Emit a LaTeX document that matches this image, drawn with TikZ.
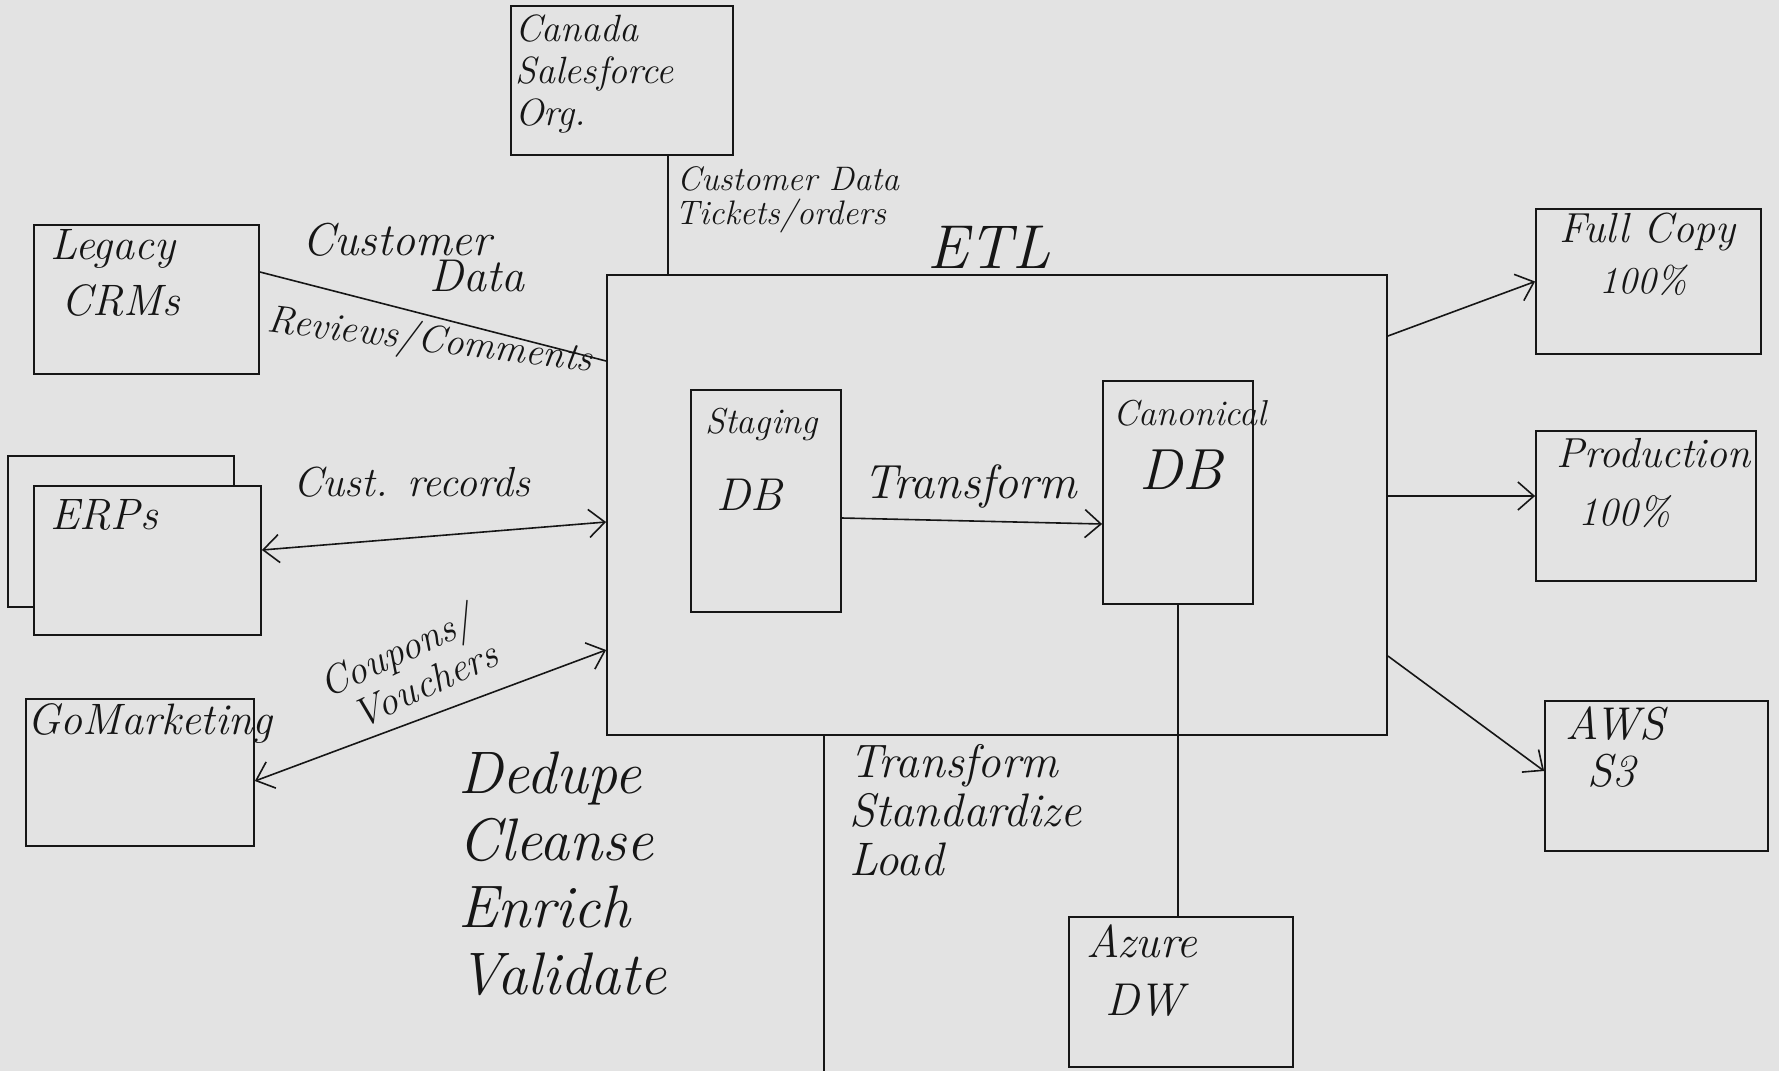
\documentclass[tikz,border=0pt]{standalone}
\usepackage{fontspec}
\usetikzlibrary{arrows.meta}
\definecolor{paper}{RGB}{227,227,227}
\definecolor{ink}{RGB}{22,22,22}
\newcommand\hwfont[2]{\itshape\fontsize{#1}{#2}\selectfont}
\begin{document}
\begin{tikzpicture}[x=1pt,y=-1pt,
  box/.style={draw=ink, line width=1.8pt, fill=paper, inner sep=0pt},
  lbl/.style={text=ink, inner sep=0pt},
  conn/.style={draw=ink, line width=1.6pt},
  arr/.style={conn, -{Straight Barb[length=16pt,width=28pt,line width=1.6pt]}},
  darr/.style={conn, {Straight Barb[length=16pt,width=28pt,line width=1.6pt]}-{Straight Barb[length=16pt,width=28pt,line width=1.6pt]}}]
\fill[paper] (0,0) rectangle (1779,1071);
\useasboundingbox (0,0) rectangle (1779,1071);

% boxes
\node[box, minimum width=780, minimum height=460] (etl) at (997,505) {};
\node[box, minimum width=150, minimum height=222] (staging) at (766,501) {};
\node[box, minimum width=150, minimum height=223] (canon) at (1178,492.5) {};
\node[box, minimum width=222, minimum height=149] (canada) at (622,80.5) {};
\node[box, minimum width=225, minimum height=149] (crm) at (146.5,299.5) {};
\node[box, minimum width=226, minimum height=151] (erpback) at (121,531.5) {};
\node[box, minimum width=227, minimum height=149] (erp) at (147.5,560.5) {};
\node[box, minimum width=228, minimum height=147] (gom) at (140,772.5) {};
\node[box, minimum width=224, minimum height=150] (azure) at (1181,992) {};
\node[box, minimum width=225, minimum height=145] (fullcopy) at (1648.5,281.5) {};
\node[box, minimum width=220, minimum height=150] (prod) at (1646,506) {};
\node[box, minimum width=223, minimum height=150] (aws) at (1656.5,776) {};

% box labels
\node[lbl, anchor=west, font=\hwfont{44}{50}] (crmA) at ([shift={(17,25)}]crm.north west) {Legacy};
\node[lbl, anchor=west, font=\hwfont{44}{50}] (crmB) at ([shift={(28,76)}]crm.north west) {CRMs};
\node[lbl, anchor=west, font=\hwfont{44}{50}] (erpA) at ([shift={(17,30)}]erp.north west) {ERPs};
\node[lbl, anchor=west, font=\hwfont{44}{50}] (gomA) at ([shift={(2,25)}]gom.north west) {GoMarketing};
\node[lbl, anchor=north west, align=left, font=\hwfont{38}{42}] (canA) at ([shift={(5,9)}]canada.north west) {Canada\\Salesforce\\Org.};
\node[lbl, anchor=west, font=\hwfont{42}{48}] (fcA) at ([shift={(24,24)}]fullcopy.north west) {Full Copy};
\node[lbl, anchor=west, font=\hwfont{38}{44}] (fcB) at ([shift={(64,72)}]fullcopy.north west) {100\%};
\node[lbl, anchor=west, font=\hwfont{42}{48}] (prA) at ([shift={(21,23)}]prod.north west) {Production};
\node[lbl, anchor=west, font=\hwfont{40}{46}] (prB) at ([shift={(43,82)}]prod.north west) {100\%};
\node[lbl, anchor=west, font=\hwfont{46}{52}] (awA) at ([shift={(21,23)}]aws.north west) {AWS};
\node[lbl, anchor=west, font=\hwfont{46}{52}] (awB) at ([shift={(43,71)}]aws.north west) {S3};
\node[lbl, anchor=west, font=\hwfont{46}{52}] (azA) at ([shift={(18,25)}]azure.north west) {Azure};
\node[lbl, anchor=west, font=\hwfont{46}{52}] (azB) at ([shift={(37,84)}]azure.north west) {DW};
\node[lbl, anchor=west, font=\hwfont{36}{42}] (stA) at ([shift={(15,35)}]staging.north west) {Staging};
\node[lbl, anchor=west, font=\hwfont{46}{52}] (stB) at ([shift={(26,106)}]staging.north west) {DB};
\node[lbl, anchor=west, font=\hwfont{36}{42}] (caA) at ([shift={(11,33)}]canon.north west) {Canonical};
\node[lbl, anchor=west, font=\hwfont{58}{64}] (caB) at ([shift={(37,90)}]canon.north west) {DB};
\node[lbl, font=\hwfont{62}{70}] (etlA) at (989,247) {ETL};

% connectors
\draw[conn] ([xshift=46pt]canada.south) coordinate (c1) -- (c1 |- etl.north);
\draw[conn] ([yshift=27.5pt]crm.east) -- ([yshift=144pt]etl.west);
\draw[darr] ([yshift=10.5pt]erp.east) -- ([yshift=-17pt]etl.west);
\draw[darr] ([yshift=-8.5pt]gom.east) -- ([yshift=-145pt]etl.west);
\draw[arr] ([yshift=-17pt]staging.east) -- ([yshift=-31.5pt]canon.west);
\draw[conn] (canon.south) -- (canon.south |- azure.north);
\coordinate (bot) at (824,1071);
\draw[conn] (bot |- etl.south) -- (bot);
\draw[arr] ([yshift=169pt]etl.east) -- (fullcopy.west);
\draw[arr] ([yshift=9pt]etl.east) -- ([yshift=10pt]prod.west);
\draw[arr] ([yshift=-151pt]etl.east) -- ([yshift=5pt]aws.west);

% connector labels
\node[lbl, anchor=west, font=\hwfont{34}{40}] (l1) at (677,179) {Customer Data};
\node[lbl, anchor=west, font=\hwfont{34}{40}] (l2) at (675,216) {Tickets/orders};
\node[lbl, font=\hwfont{46}{52}] (l3) at (397,240) {Customer};
\node[lbl, font=\hwfont{46}{52}] (l4) at (477,276) {Data};
\node[lbl, font=\hwfont{39}{46}, rotate=-7] (l5) at (430,342) {Reviews/Comments};
\node[lbl, font=\hwfont{42}{48}] (l6) at (412,482) {Cust. records};
\node[lbl, font=\hwfont{40}{44}, rotate=25] (l7) at (398,655) {Coupons/};
\node[lbl, font=\hwfont{40}{44}, rotate=25] (l7b) at (425,684) {Vouchers};
\node[lbl, font=\hwfont{48}{54}] (l8) at (970,486) {Transform};
\node[lbl, anchor=north west, align=left, font=\hwfont{60}{67}] (l9) at (458,752) {Dedupe\\Cleanse\\Enrich\\Validate};
\node[lbl, anchor=north west, align=left, font=\hwfont{47}{49}] (l10) at (849,744) {Transform\\Standardize\\Load};
\end{tikzpicture}
\end{document}
